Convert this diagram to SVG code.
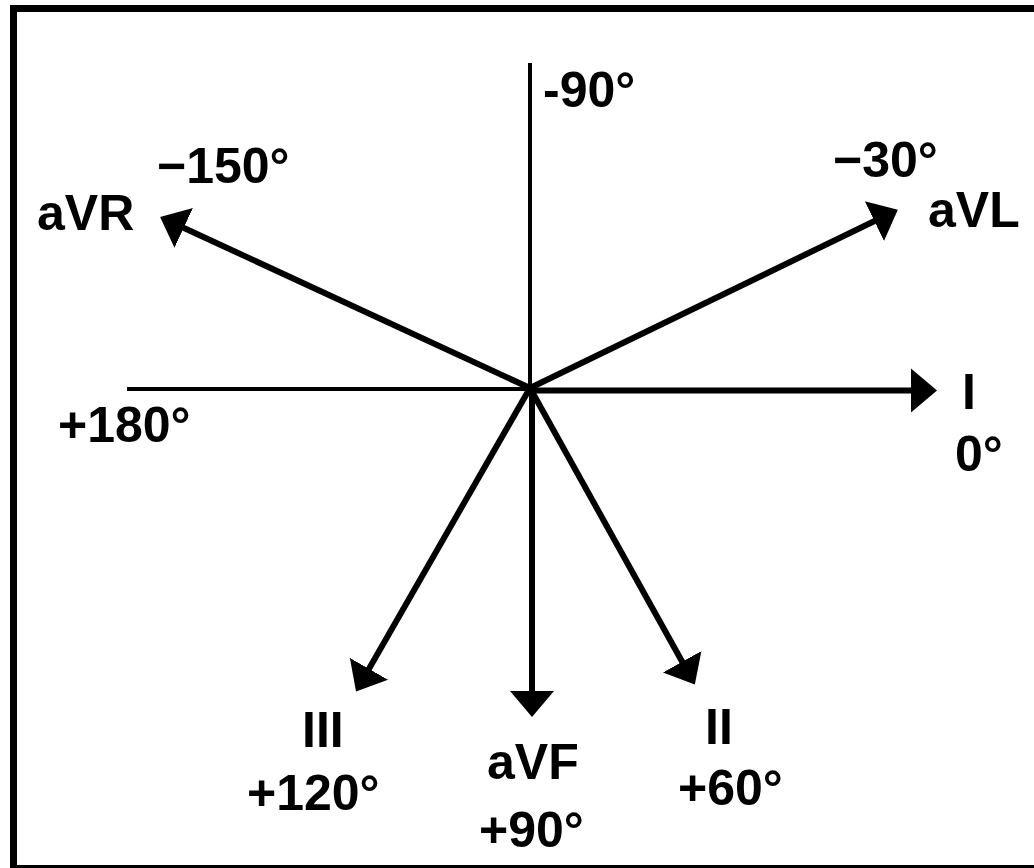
<svg xmlns="http://www.w3.org/2000/svg" width="1034" height="868" viewBox="0 0 1034 868">
<style>
.t{font-family:"Liberation Sans",Arial,sans-serif;font-weight:bold;font-size:50px;fill:#000}
.axis{stroke:#000;stroke-width:4;fill:none}
.lead{stroke:#000;stroke-width:6;fill:none;marker-end:url(#ah)}
</style>
<defs>
<marker id="ah" markerUnits="userSpaceOnUse" viewBox="0 -23 26 46" refX="14" refY="0" markerWidth="26" markerHeight="46" orient="auto">
<path d="M0,-22 L26,0 L0,22 Z" fill="#000"/>
</marker>
</defs>
<rect x="0" y="0" width="1034" height="868" fill="#fff"/>
<rect id="frame" x="13.5" y="8.5" width="1040" height="860" fill="none" stroke="#000" stroke-width="7"/>
<g id="connectors">
<line class="axis" x1="530" y1="63" x2="530" y2="390"/>
<line class="axis" x1="127" y1="389" x2="530" y2="389"/>
<line id="c-I" class="lead" stroke-width="7" x1="530" y1="390.5" x2="925" y2="390.5"/>
<line id="c-aVF" class="lead" stroke-width="7" x1="532" y1="388" x2="532" y2="705"/>
<line id="c-aVR" class="lead" x1="530" y1="388" x2="171" y2="222"/>
<line id="c-aVL" class="lead" x1="530" y1="388" x2="887" y2="215"/>
<line id="c-III" class="lead" x1="530" y1="388" x2="362" y2="681"/>
<line id="c-II" class="lead" x1="530" y1="388" x2="689" y2="674"/>
</g>
<g id="label-m90"><text class="t" x="543" y="107">-90°</text></g>
<g id="node-aVR"><text class="t" x="157" y="183">−150°</text><text class="t" x="37" y="230">aVR</text></g>
<g id="node-aVL"><text class="t" x="833" y="177">−30°</text><text class="t" x="928" y="227">aVL</text></g>
<g id="node-I"><text class="t" x="962" y="409">I</text><text class="t" x="955" y="471">0°</text></g>
<g id="label-180"><text class="t" x="58" y="442">+180°</text></g>
<g id="node-III"><text class="t" x="302" y="747">III</text><text class="t" x="247" y="810">+120°</text></g>
<g id="node-aVF"><text class="t" x="487" y="779">aVF</text><text class="t" x="479" y="847">+90°</text></g>
<g id="node-II"><text class="t" x="705" y="744">II</text><text class="t" x="678" y="805">+60°</text></g>
</svg>
